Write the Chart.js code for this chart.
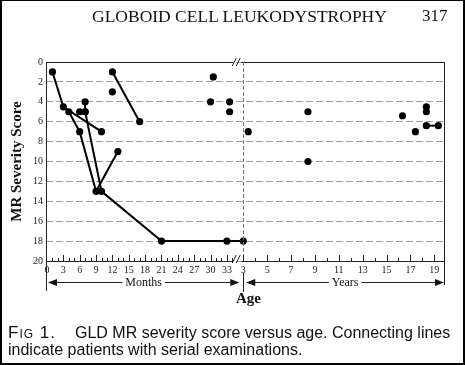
<!DOCTYPE html>
<html>
<head>
<meta charset="utf-8">
<script src="https://cdn.jsdelivr.net/npm/chart.js@4.4.1/dist/chart.umd.min.js"></script>
<style>
  html, body { margin: 0; padding: 0; background: #fff; }
  #page { position: relative; width: 465px; height: 365px; box-sizing: border-box;
          border: 2px solid #000; border-top-width: 1px; overflow: hidden; }
  #chartBox { position: absolute; left: -2px; top: -1px; width: 465px; height: 365px; }
  #header { position: absolute; top: 5px; left: 90px; font: 17.5px 'Liberation Serif', serif; color: #111; white-space: nowrap; }
  #header .pg { position: absolute; left: 330px; font-size: 17px; }
  #caption { position: absolute; left: 6px; top: 323px; width: 455px; font: 16px/17px 'Liberation Sans', sans-serif; color: #111; }
  #caption .fig { font-variant: small-caps; display: inline-block; width: 67px; font-size: 17px; letter-spacing: 1px; }
</style>
</head>
<body>
<div id="page">
  <div id="chartBox"><canvas id="myChart"></canvas></div>
  <div id="header">GLOBOID CELL LEUKODYSTROPHY<span class="pg">317</span></div>
  <div id="caption"><span class="fig">Fig 1.</span>GLD MR severity score versus age. Connecting lines indicate patients with serial examinations.</div>
</div>
<script>
// ages are in months (values past 35 months are drawn on the "years" part of the axis)
var serialAges   = [[1, 3, 10], [4, 6, 9, 13], [7, 7, 10, 21, 33, 36], [6, 7], [12, 17], [220, 232]];
var serialScores = [[1, 4.5, 7], [5, 7, 13, 9], [4, 5, 13, 18, 18, 18], [5, 5], [1, 6], [6.4, 6.4]];

var singleAges   = [12, 30, 30.5, 33.5, 33.5, 41, 101, 101, 196, 209, 220, 220];
var singleScores = [3, 4, 1.5, 4, 5, 7, 5, 10, 5.4, 7, 4.5, 5];

var monthTicks = [0, 3, 6, 9, 12, 15, 18, 21, 24, 27, 30, 33];
var yearTicks  = [3, 5, 7, 9, 11, 13, 15, 17, 19];
var scoreTicks = [0, 2, 4, 6, 8, 10, 12, 14, 16, 18, 20];

var YEAR_UNITS = 2.19;   // axis units per year on the right-hand part
var BREAK_AT = 34.9;

function monthPos(m) { return m; }
function yearPos(y) { return 36 + (y - 3) * YEAR_UNITS; }
function agePos(m) { return m <= 35 ? monthPos(m) : yearPos(m / 12); }

var labelAt = {};
monthTicks.forEach(function (m) { labelAt[monthPos(m).toFixed(2)] = String(m); });
yearTicks.forEach(function (y) { labelAt[yearPos(y).toFixed(2)] = String(y); });

var datasets = [];
for (let i = 0; i < serialAges.length; i++) {
  datasets.push({
    data: serialAges[i].map(function (a, j) { return { x: agePos(a), y: serialScores[i][j] }; }),
    showLine: true,
    borderColor: '#000',
    borderWidth: 2,
    backgroundColor: '#000',
    pointBorderWidth: 0,
    pointRadius: 3.6,
    pointHoverRadius: 3.6
  });
}
datasets.push({
  data: singleAges.map(function (a, j) { return { x: agePos(a), y: singleScores[j] }; }),
  showLine: false,
  backgroundColor: '#000',
  borderColor: '#000',
  pointBorderWidth: 0,
  pointRadius: 3.6,
  pointHoverRadius: 3.6
});

const serif = "'Liberation Serif', 'Times New Roman', serif";

const decor = {
  id: 'decor',
  afterDraw(chart) {
    const c = chart.ctx, a = chart.chartArea;
    const xs = chart.scales.x;
    const px = function (u) { return xs.getPixelForValue(u); };
    const x0 = px(0), xBrk = px(BREAK_AT), xDiv = px(36);
    c.save();
    c.strokeStyle = '#222';
    c.lineWidth = 1;

    // frame
    c.beginPath();
    c.moveTo(a.left + 0.5, a.top); c.lineTo(a.left + 0.5, a.bottom + 30);
    c.moveTo(a.left, a.top + 0.5); c.lineTo(xBrk - 4, a.top + 0.5);
    c.moveTo(xBrk + 4, a.top + 0.5); c.lineTo(a.right, a.top + 0.5);
    c.moveTo(a.right - 0.5, a.top); c.lineTo(a.right - 0.5, a.bottom + 24);
    c.moveTo(a.left, a.bottom + 0.5); c.lineTo(xBrk - 4, a.bottom + 0.5);
    c.moveTo(xBrk + 4, a.bottom + 0.5); c.lineTo(a.right, a.bottom + 0.5);
    c.stroke();

    // break marks
    [a.top, a.bottom - 2].forEach(function (yy) {
      c.beginPath();
      c.moveTo(xBrk - 5, yy + 4); c.lineTo(xBrk - 1, yy - 4);
      c.moveTo(xBrk - 1, yy + 4); c.lineTo(xBrk + 3, yy - 4);
      c.stroke();
    });

    // divider between months and years
    c.strokeStyle = '#777';
    c.setLineDash([4, 2]);
    c.beginPath();
    c.moveTo(Math.round(xDiv) + 0.5, a.top); c.lineTo(Math.round(xDiv) + 0.5, a.bottom);
    c.stroke();
    c.setLineDash([]);
    c.strokeStyle = '#222';
    c.beginPath();
    c.moveTo(Math.round(xDiv) + 0.5, a.bottom + 12); c.lineTo(Math.round(xDiv) + 0.5, a.bottom + 31);
    c.stroke();

    // tick marks (inside, pointing up)
    c.beginPath();
    for (let m = 1; m <= 34; m++) {
      const len = (m % 3 === 0) ? 6 : 3;
      const xx = Math.round(px(monthPos(m))) + 0.5;
      c.moveTo(xx, a.bottom); c.lineTo(xx, a.bottom - len);
    }
    for (let y = 3; y <= 19; y++) {
      const len = (y % 2 === 1) ? 6 : 3;
      const xx = Math.round(px(yearPos(y))) + 0.5;
      c.moveTo(xx, a.bottom); c.lineTo(xx, a.bottom - len);
    }
    c.stroke();

    // Months / Years arrows
    const ay = a.bottom + 21.5;
    function arrowHead(tip, dir) {
      c.beginPath();
      c.moveTo(tip, ay);
      c.lineTo(tip + dir * 9, ay - 3.5);
      c.lineTo(tip + dir * 9, ay + 3.5);
      c.closePath();
      c.fill();
    }
    c.fillStyle = '#111';
    c.font = '12px ' + serif;
    c.textAlign = 'center';
    c.textBaseline = 'middle';
    function span(l, r, text) {
      const mid = (l + r) / 2;
      const w = c.measureText(text).width / 2 + 3;
      c.beginPath();
      c.moveTo(l + 2, ay); c.lineTo(mid - w, ay);
      c.moveTo(mid + w, ay); c.lineTo(r - 2, ay);
      c.stroke();
      arrowHead(l + 1, 1);
      arrowHead(r - 1, -1);
      c.fillText(text, mid, ay);
    }
    span(x0, xDiv - 3, 'Months');
    span(xDiv + 2, a.right, 'Years');

    // axis titles
    c.font = 'bold 15px ' + serif;
    c.fillText('Age', (a.left + a.right) / 2 + 3, a.bottom + 38);
    c.translate(17, (a.top + a.bottom) / 2);
    c.rotate(-Math.PI / 2);
    c.fillText('MR Severity Score', 0, 0);
    c.restore();
  }
};

const ctx = document.getElementById('myChart');
const myChart = new Chart(ctx, {
  type: 'scatter',
  data: { datasets: datasets },
  plugins: [decor],
  options: {
    responsive: true,
    maintainAspectRatio: false,
    animation: false,
    layout: { padding: { top: 62, left: 16, right: 20, bottom: 88 } },
    plugins: { legend: { display: false }, tooltip: { enabled: false } },
    scales: {
      x: {
        type: 'linear',
        min: -0.18,
        max: 73,
        afterBuildTicks: function (scale) {
          scale.ticks = monthTicks.map(monthPos).concat(yearTicks.map(yearPos)).map(function (v) { return { value: v }; });
        },
        afterFit: function (scale) { scale.height = 16; },
        grid: { display: false, drawTicks: false },
        border: { display: false },
        ticks: {
          autoSkip: false,
          maxRotation: 0,
          padding: 3,
          color: '#222',
          font: { family: serif, size: 10 },
          callback: function (v) { return labelAt[Number(v).toFixed(2)] || ''; }
        }
      },
      y: {
        reverse: true,
        min: 0,
        max: 20,
        afterBuildTicks: function (scale) {
          scale.ticks = scoreTicks.map(function (v) { return { value: v }; });
        },
        afterFit: function (scale) { scale.width = 30; },
        grid: { color: 'rgba(0,0,0,0.38)', lineWidth: 1, drawTicks: false },
        border: { display: false, dash: [7, 3] },
        ticks: {
          padding: 3,
          color: '#222',
          font: { family: serif, size: 10 }
        }
      }
    }
  }
});
</script>
</body>
</html>
